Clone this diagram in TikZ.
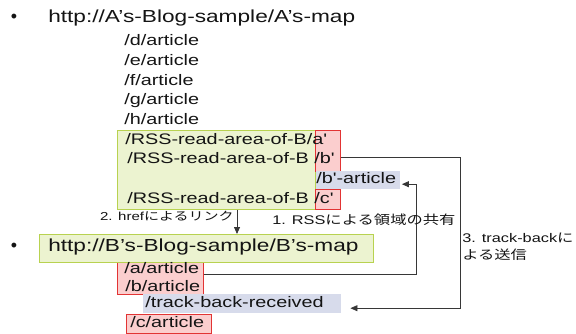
\documentclass[tikz,border=0pt]{standalone}
\usepackage{fontspec}
\setmainfont{Liberation Sans}
\newfontfamily\jpfont{Noto Sans CJK JP}
\usetikzlibrary{arrows.meta, positioning}

\definecolor{areagreen}{RGB}{236,243,208}
\definecolor{areagreenline}{RGB}{184,210,80}
\definecolor{areared}{RGB}{251,206,206}
\definecolor{arearedline}{RGB}{226,52,52}
\definecolor{areablue}{RGB}{215,219,235}
\definecolor{ink}{RGB}{20,20,20}

\begin{document}
\begin{tikzpicture}[
  x=1bp, y=-1bp,
  greenbox/.style={draw=areagreenline, fill=areagreen, line width=0.8bp, inner sep=0, anchor=north west},
  redbox/.style={draw=arearedline, fill=areared, line width=0.8bp, inner sep=0, anchor=north west},
  bluebox/.style={fill=areablue, inner sep=0, anchor=north west},
  txt/.style={inner sep=0, anchor=west, xscale=1.3, transform shape, text=ink},
  url/.style={txt, font=\fontsize{17.5}{20}\selectfont},
  item/.style={txt, font=\fontsize{15.3}{18}\selectfont, text height=11bp, text depth=3.5bp},
  note/.style={txt, font=\fontsize{12.6}{17}\selectfont},
  dot/.style={inner sep=0, text=ink, font=\fontsize{18}{20}\selectfont},
  arr/.style={-{Triangle[length=7bp,width=6bp]}, line width=0.8bp, draw=ink!85},
  link/.style={line width=0.8bp, draw=ink!85}
]
  \path[use as bounding box] (0,0) rectangle (576,333);

  % A's blog
  \node[dot] (bula) at (14,18) {\textbullet};
  \node[url] (urla) at (48,18) {http://A’s-Blog-sample/A’s-map};
  \node[item] (d) at (124,42) {/d/article};
  \node[item, below=4.8bp of d.south west, anchor=north west] (e) {/e/article};
  \node[item, below=4.8bp of e.south west, anchor=north west] (f) {/f/article};
  \node[item, below=4.8bp of f.south west, anchor=north west] (g) {/g/article};
  \node[item, below=4.8bp of g.south west, anchor=north west] (h) {/h/article};

  \node[greenbox, minimum width=198bp, minimum height=79bp] (areaA) at (117,130) {};
  \node[redbox, minimum width=25bp, minimum height=41bp] (redAB) at (315,130) {};
  \node[bluebox, minimum width=84bp, minimum height=18bp] (bartbox) at (315.5,171) {};
  \node[redbox, minimum width=25bp, minimum height=20bp] (redC) at (315,189) {};
  \node[item] (rssa) at (125,141) {/RSS-read-area-of-B/a\textquotesingle};
  \node[item] (rssb) at (127,160) {/RSS-read-area-of-B /b\textquotesingle};
  \node[item] (bart) at (316,180) {/b\textquotesingle-article};
  \node[item] (rssc) at (127,200) {/RSS-read-area-of-B /c\textquotesingle};

  % B's blog
  \node[redbox, minimum width=86bp, minimum height=32bp] (redB) at (117,262) {};
  \node[bluebox, minimum width=198bp, minimum height=19bp] (trackbox) at (143,294) {};
  \node[redbox, minimum width=85bp, minimum height=19bp] (redCart) at (126,314) {};
  \node[greenbox, minimum width=334bp, minimum height=28bp] (mapB) at (39,234) {};
  \node[dot] (bulb) at (14,247) {\textbullet};
  \node[url] (urlb) at (48,247) {http://B’s-Blog-sample/B’s-map};
  \node[item] (aart) at (124,270) {/a/article};
  \node[item] (bartB) at (125,288) {/b/article};
  \node[item] (track) at (145,304) {/track-back-received};
  \node[item] (cart) at (130,324) {/c/article};

  % connectors
  \coordinate (hrefx) at (237,0);
  \coordinate (rssturn) at (416,0);
  \coordinate (sendturn) at (460,0);
  \coordinate (bartin) at ([xshift=2bp,yshift=-4bp]bartbox.east);
  \coordinate (tbin) at ([xshift=9bp,yshift=-4.5bp]trackbox.east);

  \draw[arr] (areaA.south -| hrefx) -- (mapB.north -| hrefx);
  \draw[arr] ([yshift=4bp]redB.east) -| (rssturn |- bartin) -- (bartin);
  \draw[arr] ([yshift=-6.5bp]redAB.east) -| (sendturn |- tbin) -- (tbin);

  \node[note, anchor=east, font=\fontsize{11.6}{17}\selectfont] (hreflabel) at (234,216) {2. href{\jpfont によるリンク}};
  \node[note] (rsslabel) at (272,220) {1. RSS{\jpfont による領域の共有}};
  \node[note, anchor=north west, align=left] (tblabel) at (462,233) {3. track-back{\jpfont に}\\{\jpfont よる送信}};
\end{tikzpicture}
\end{document}
